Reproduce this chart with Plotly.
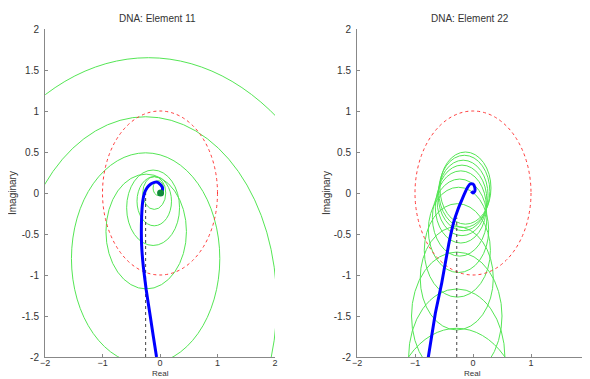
import plotly.graph_objects as go

# ---------------- data ----------------
# Left panel: DNA element 11 (Nyquist locus of the diagonal element)
left_locus_x = [0.0, -0.06, -0.17, -0.24, -0.29, -0.32, -0.32, -0.30, -0.27, -0.22, -0.16,
                -0.10, -0.04, 0.01, 0.04, 0.04, 0.02, 0.0]
left_locus_y = [-2.2, -2.0, -1.5, -1.18, -0.9, -0.63, -0.3, -0.1, 0.0, 0.07, 0.11,
                0.13, 0.13, 0.1, 0.07, 0.03, 0.01, 0.0]
left_end_point = (0.01, 0.0)
# Gershgorin-type circles (centre x, centre y, radius)
left_circle_cx = [-0.03, -0.1, -0.1, -0.12, -0.24, -0.25, -0.25, -0.2]
left_circle_cy = [0.06, 0.0, -0.1, -0.18, -0.47, -0.8, -1.35, -2.15]
left_circle_r = [0.09, 0.2, 0.3, 0.46, 0.7, 1.29, 2.28, 3.8]
left_marker_x = [-0.25, -0.25]
left_marker_y = [-2.0, 0.0]

# Right panel: DNA element 22
right_locus_x = [-0.82, -0.77, -0.65, -0.54, -0.42, -0.33, -0.26, -0.19, -0.10, -0.05,
                 0.0, 0.03, 0.03, 0.0, -0.03]
right_locus_y = [-2.2, -2.0, -1.47, -1.1, -0.63, -0.35, -0.2, -0.08, 0.06, 0.11,
                 0.11, 0.07, 0.02, 0.0, 0.02]
right_circle_cx = [-0.13, -0.15, -0.17, -0.19, -0.21, -0.23, -0.25, -0.27, -0.28, -0.28, -0.28, -0.28]
right_circle_cy = [0.06, 0.02, -0.03, -0.09, -0.17, -0.3, -0.45, -0.7, -1.04, -1.5, -2.0, -2.81]
right_circle_r = [0.44, 0.44, 0.43, 0.43, 0.44, 0.47, 0.52, 0.57, 0.63, 0.78, 0.83, 1.16]
right_marker_x = [-0.28, -0.28]
right_marker_y = [-2.0, -0.3]

unit_circle = (0.0, 0.0, 1.0)  # centre x, centre y, radius

titles = ["DNA: Element 11", "DNA: Element 22"]
x_ticks = [-2, -1, 0, 1, 2]
y_ticks = [-2, -1.5, -1, -0.5, 0, 0.5, 1, 1.5, 2]
y_tick_text = ["-2", "-1.5", "-1", "-0.5", "0", "0.5", "1", "1.5", "2"]

# ---------------- figure ----------------
# The page body has an 8px margin, so the figure is drawn 8px smaller and offset.
OFF = 8
W, H = 590 - OFF, 379 - OFF
GREEN = "#55e655"
BLUE = "#0000ff"
RED = "#ff3b3b"
TXT = "#333333"
FONT = "Liberation Sans, Arial, sans-serif"


def px(v):
    return (v - OFF) / W


def py(v):
    return (H - (v - OFF)) / H


fig = go.Figure()

panels = [
    dict(xa="x", ya="y", lx=left_locus_x, ly=left_locus_y, cx=left_circle_cx, cy=left_circle_cy,
         r=left_circle_r, mx=left_marker_x, my=left_marker_y),
    dict(xa="x2", ya="y2", lx=right_locus_x, ly=right_locus_y, cx=right_circle_cx, cy=right_circle_cy,
         r=right_circle_r, mx=right_marker_x, my=right_marker_y),
]

shapes = []
for p in panels:
    for cx, cy, r in zip(p["cx"], p["cy"], p["r"]):
        shapes.append(dict(type="circle", xref=p["xa"], yref=p["ya"],
                           x0=cx - r, x1=cx + r, y0=cy - r, y1=cy + r,
                           line=dict(color=GREEN, width=1), layer="below"))
    ucx, ucy, ur = unit_circle
    shapes.append(dict(type="circle", xref=p["xa"], yref=p["ya"],
                       x0=ucx - ur, x1=ucx + ur, y0=ucy - ur, y1=ucy + ur,
                       line=dict(color=RED, width=1, dash="dot"), layer="below"))
    fig.add_trace(go.Scatter(x=p["mx"], y=p["my"], mode="lines", xaxis=p["xa"], yaxis=p["ya"],
                             line=dict(color="#444444", width=1, dash="dot"),
                             showlegend=False, hoverinfo="skip"))
    fig.add_trace(go.Scatter(x=p["lx"], y=p["ly"], mode="lines", xaxis=p["xa"], yaxis=p["ya"],
                             line=dict(color=BLUE, width=3, shape="spline", smoothing=0.4),
                             showlegend=False, hoverinfo="skip"))

fig.add_trace(go.Scatter(x=[left_end_point[0]], y=[left_end_point[1]], mode="markers",
                         xaxis="x", yaxis="y",
                         marker=dict(color="#118a3a", size=7), showlegend=False, hoverinfo="skip"))

axis_common = dict(range=[-2, 2], showgrid=False, zeroline=False, showline=True,
                   linecolor="#888888", linewidth=1, ticks="inside", ticklen=3,
                   tickcolor="#888888", automargin=False, mirror=False, fixedrange=True)
yfont = dict(family=FONT, size=10, color=TXT)
xfont = dict(family=FONT, size=9, color=TXT)

fig.update_layout(
    width=W, height=H,
    margin=dict(l=0, r=0, t=0, b=0),
    paper_bgcolor="white", plot_bgcolor="white",
    template="none",
    showlegend=False,
    shapes=shapes,
    xaxis=dict(domain=[px(45), px(275)], anchor="y", tickvals=x_ticks, tickfont=xfont,
               ticklabelstandoff=-3, **axis_common),
    yaxis=dict(domain=[py(357), py(29)], anchor="x", tickvals=y_ticks, ticktext=y_tick_text,
               tickfont=yfont, ticklabelstandoff=3, **axis_common),
    xaxis2=dict(domain=[px(357), min(1.0, px(589))], anchor="y2", tickvals=x_ticks, tickfont=xfont,
                ticklabelstandoff=-3, **axis_common),
    yaxis2=dict(domain=[py(357), py(29)], anchor="x2", tickvals=y_ticks, ticktext=y_tick_text,
                tickfont=yfont, ticklabelstandoff=3, **axis_common),
)

annotations = []
for title, xc, ylab_x in [(titles[0], 158, 12), (titles[1], 470, 326)]:
    annotations.append(dict(text=title, x=px(xc), y=py(18), xref="paper", yref="paper",
                            showarrow=False, xanchor="center", yanchor="middle",
                            font=dict(family=FONT, size=10, color=TXT)))
    annotations.append(dict(text="Real", x=px(xc + 2), y=0, xref="paper", yref="paper",
                            showarrow=False, xanchor="center", yanchor="bottom",
                            borderpad=0, font=dict(family=FONT, size=8, color=TXT)))
    annotations.append(dict(text="Imaginary", x=px(ylab_x), y=py(193), xref="paper", yref="paper",
                            showarrow=False, xanchor="center", yanchor="middle", textangle=-90,
                            font=dict(family=FONT, size=10, color=TXT)))
fig.update_layout(annotations=annotations)

fig.write_html("out.html")
